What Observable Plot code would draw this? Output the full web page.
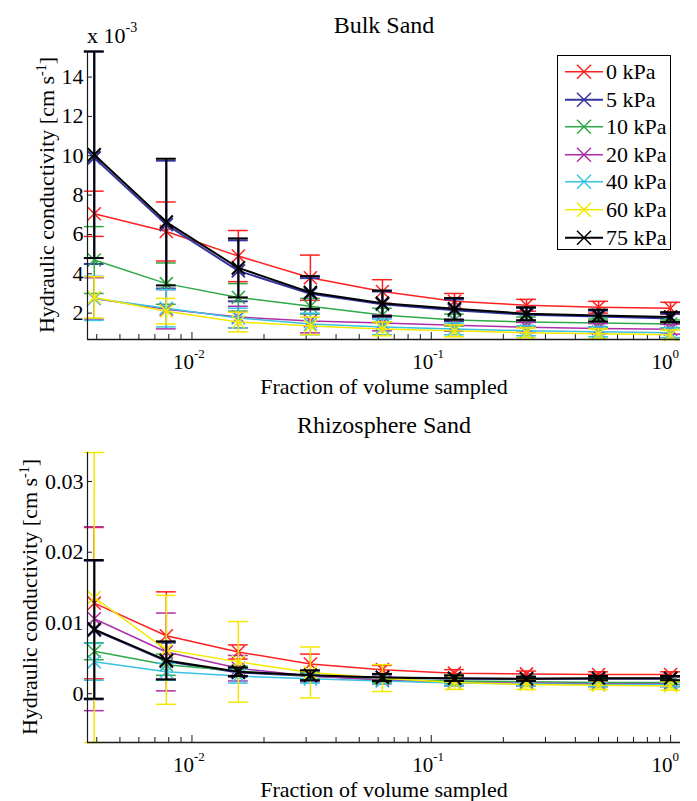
<!DOCTYPE html>
<html><head><meta charset="utf-8">
<script src="https://cdn.jsdelivr.net/npm/d3@7"></script>
<script src="https://cdn.jsdelivr.net/npm/@observablehq/plot@0.6"></script>
<style>
body{margin:0;background:#fff;}
#wrap{position:relative;width:697px;height:801px;font-family:"Liberation Serif","Times New Roman",Times,"DejaVu Serif",serif;}
#wrap svg{display:block;}
#wrap svg text{font-family:"Liberation Serif","Times New Roman",Times,"DejaVu Serif",serif;}
#legend{position:absolute;left:557px;top:55px;width:114px;height:195px;border:1px solid #000;background:#fff;padding-top:2px;box-sizing:border-box;}
#legend .row{height:27.6px;display:flex;align-items:center;font-size:22px;line-height:27.6px;}
#legend .row span{margin-left:2px;}
</style></head><body><div id="wrap"></div>
<script>
// ---------- data ----------
const fractions = [0.00390625, 0.0078125, 0.015625, 0.03125, 0.0625, 0.125, 0.25, 0.5, 1];
const pressures = ["0 kPa", "5 kPa", "10 kPa", "20 kPa", "40 kPa", "60 kPa", "75 kPa"];
const colors = ["#ff2020", "#34349e", "#2eaa48", "#ae2eaa", "#38c2e4", "#f4e800", "#000000"];

// Bulk sand, values in units of 10^-3 cm s^-1
const bulk_0 = [7.05, 6.15, 4.9, 3.8, 3.1, 2.6, 2.4, 2.3, 2.25];
const bulk_0_err = [1.15, 1.5, 1.3, 1.15, 0.6, 0.4, 0.3, 0.3, 0.3];
const bulk_5 = [9.9, 6.5, 4.15, 2.98, 2.45, 2.15, 1.92, 1.83, 1.73];
const bulk_5_err = [5.4, 3.25, 1.55, 0.8, 0.65, 0.55, 0.35, 0.3, 0.25];
const bulk_10 = [4.7, 3.5, 2.8, 2.35, 1.9, 1.65, 1.55, 1.5, 1.45];
const bulk_10_err = [1.7, 1.05, 0.7, 0.4, 0.35, 0.3, 0.25, 0.2, 0.2];
const bulk_20 = [2.75, 2.2, 1.8, 1.6, 1.5, 1.38, 1.28, 1.22, 1.18];
const bulk_20_err = [1.05, 1.0, 0.55, 0.6, 0.4, 0.3, 0.25, 0.25, 0.25];
const bulk_40 = [2.75, 2.25, 1.75, 1.45, 1.3, 1.2, 1.1, 1.05, 1.0];
const bulk_40_err = [1.12, 0.95, 0.5, 0.55, 0.4, 0.3, 0.25, 0.25, 0.25];
const bulk_60 = [2.8, 2.1, 1.55, 1.35, 1.2, 1.1, 1.0, 0.95, 0.9];
const bulk_60_err = [1.05, 0.65, 0.5, 0.45, 0.35, 0.3, 0.25, 0.25, 0.24];
const bulk_75 = [10.05, 6.63, 4.3, 3.05, 2.5, 2.22, 1.97, 1.88, 1.8];
const bulk_75_err = [5.25, 3.22, 1.5, 0.83, 0.65, 0.55, 0.33, 0.3, 0.25];

// Rhizosphere sand, cm s^-1
const rhizo_0 = [0.0128, 0.0082, 0.0059, 0.0042, 0.0034, 0.0029, 0.0028, 0.0027, 0.0027];
const rhizo_0_err = [0.0107, 0.0062, 0.0010, 0.0014, 0.0006, 0.0005, 0.0004, 0.0004, 0.0004];
const rhizo_5 = [0.0090, 0.0046, 0.0030, 0.0025, 0.0023, 0.0021, 0.0021, 0.0021, 0.0021];
const rhizo_5_err = [0.0098, 0.0026, 0.0006, 0.0005, 0.0004, 0.0004, 0.0003, 0.0003, 0.0003];
const rhizo_10 = [0.0060, 0.0041, 0.0032, 0.0025, 0.0020, 0.0018, 0.0017, 0.0016, 0.0016];
const rhizo_10_err = [0.0012, 0.0015, 0.0007, 0.0005, 0.0004, 0.0004, 0.0003, 0.0003, 0.0003];
const rhizo_20 = [0.0106, 0.0059, 0.0036, 0.0025, 0.0019, 0.0016, 0.0015, 0.0014, 0.0014];
const rhizo_20_err = [0.0130, 0.0055, 0.0018, 0.0008, 0.0005, 0.0005, 0.0004, 0.0004, 0.0004];
const rhizo_40 = [0.0045, 0.0031, 0.0025, 0.0021, 0.0018, 0.0015, 0.0014, 0.0013, 0.0013];
const rhizo_40_err = [0.0026, 0.0012, 0.0010, 0.0006, 0.0004, 0.0004, 0.0003, 0.0003, 0.0003];
const rhizo_60 = [0.0136, 0.0062, 0.0045, 0.0030, 0.0022, 0.0016, 0.0013, 0.0012, 0.0011];
const rhizo_60_err = [0.0205, 0.0077, 0.0057, 0.0036, 0.0019, 0.0010, 0.0007, 0.0006, 0.0006];
const rhizo_75 = [0.0091, 0.0047, 0.0031, 0.0026, 0.0023, 0.0022, 0.0021, 0.0022, 0.0022];
const rhizo_75_err = [0.0098, 0.0027, 0.0006, 0.0007, 0.0005, 0.0004, 0.0003, 0.0003, 0.0003];

// axis ticks
const xMajorTicks = [0.01, 0.1, 1];
const xMajorExponents = ["-2", "-1", "0"];
const xMinorTicks = [0.004, 0.005, 0.006, 0.007, 0.008, 0.009, 0.02, 0.03, 0.04, 0.05, 0.06, 0.07, 0.08, 0.09, 0.2, 0.3, 0.4, 0.5, 0.6, 0.7, 0.8, 0.9];
const bulkYTicks = [2, 4, 6, 8, 10, 12, 14];
const rhizoYTicks = [0, 0.01, 0.02, 0.03];
const xDomain = [0.00366, 1.1];

const xLabel = "Fraction of volume sampled";
const yLabel = "Hydraulic conductivity [cm s";

// ---------- drawing ----------
const W = 697, ML = 87, MR = 17;
const axisColor = "#1a1a1a";
const font = "'Liberation Serif', 'Times New Roman', Times, 'DejaVu Serif', serif";

function panel({title, means, errs, yTicks, height, marginTop, marginBottom, multiplier, yLabelX}) {
  const series = means.map((m, i) => fractions.map((f, j) => ({
    x: f, y: m[j], lo: m[j] - errs[i][j], hi: m[j] + errs[i][j]
  })));
  const all = series.flat();
  const yDomain = [d3.min(all, d => d.lo), d3.max(all, d => d.hi)];
  const plotH = height - marginTop - marginBottom;
  const plotW = W - ML - MR;
  const cap = 1.1;
  const marks = [
    Plot.axisY({ticks: yTicks, tickSize: 0, tickPadding: 4, label: null, tickFormat: d => String(d), fill: "#000"}),
    Plot.tickY(yTicks, {y: d => d, insetRight: plotW - 5, stroke: axisColor}),
    Plot.tickX(xMinorTicks, {x: d => d, insetTop: plotH - 5, stroke: axisColor}),
    Plot.tickX(xMajorTicks, {x: d => d, insetTop: plotH - 7, stroke: axisColor}),
    Plot.text(xMajorTicks, {x: d => d, text: () => "10", frameAnchor: "bottom", dy: 29, dx: 2, textAnchor: "end", lineAnchor: "bottom", fontSize: 21, fill: "#000"}),
    Plot.text(xMajorTicks, {x: d => d, text: (d, i) => xMajorExponents[i], frameAnchor: "bottom", dy: 18, dx: 2, textAnchor: "start", lineAnchor: "bottom", fontSize: 13, fill: "#000"}),
    Plot.text([xLabel], {text: d => d, frameAnchor: "bottom", dy: 54, lineAnchor: "bottom", fontSize: 22, fill: "#000"}),
    Plot.text([title], {text: d => d, frameAnchor: "top", dy: 32 - marginTop, lineAnchor: "bottom", fontSize: 24, fill: "#000"})
  ];
  series.forEach((s, i) => {
    const c = colors[i], w = i === 6 || i === 1 ? 2 : 1.5;
    marks.push(Plot.ruleX(s, {x: "x", y1: "lo", y2: "hi", stroke: c, strokeWidth: w}));
    marks.push(Plot.ruleY(s, {y: "hi", x1: d => d.x / cap, x2: d => d.x * cap, stroke: c, strokeWidth: w}));
    marks.push(Plot.ruleY(s, {y: "lo", x1: d => d.x / cap, x2: d => d.x * cap, stroke: c, strokeWidth: w}));
    marks.push(Plot.line(s, {x: "x", y: "y", stroke: c, strokeWidth: w}));
    marks.push(Plot.dot(s, {x: "x", y: "y", symbol: "times", r: 6, stroke: c, strokeWidth: w}));
  });
  marks.push(Plot.ruleX([xDomain[0]], {stroke: axisColor, strokeWidth: 1.2}));
  marks.push(Plot.ruleY([yDomain[0]], {stroke: axisColor, strokeWidth: 1.5}));

  const svg = Plot.plot({
    width: W, height, marginLeft: ML, marginRight: MR, marginTop, marginBottom,
    style: {fontFamily: font, fontSize: "22px", background: "#fff", overflow: "visible", color: "#000"},
    x: {type: "log", domain: xDomain, axis: null},
    y: {domain: yDomain},
    marks
  });
  const s = d3.select(svg);
  // rotated y label with superscript
  const cy = marginTop + plotH / 2;
  const t = s.append("text")
    .attr("transform", `translate(${yLabelX},${cy}) rotate(-90)`)
    .attr("text-anchor", "middle")
    .style("font-family", font).attr("font-size", 22).attr("fill", "#000");
  t.append("tspan").text(yLabel);
  t.append("tspan").attr("dy", -8).attr("font-size", 14).text("-1");
  t.append("tspan").attr("dy", 8).text("]");
  if (multiplier) {
    const m = s.append("text").attr("x", ML).attr("y", marginTop - 8)
      .attr("text-anchor", "start")
      .style("font-family", font).attr("font-size", 22).attr("fill", "#000");
    m.append("tspan").text("x 10");
    m.append("tspan").attr("dy", -11).attr("font-size", 14).text(multiplier);
  }
  return svg;
}

const wrap = document.getElementById("wrap");
wrap.appendChild(panel({
  title: "Bulk Sand",
  means: [bulk_0, bulk_5, bulk_10, bulk_20, bulk_40, bulk_60, bulk_75],
  errs: [bulk_0_err, bulk_5_err, bulk_10_err, bulk_20_err, bulk_40_err, bulk_60_err, bulk_75_err],
  yTicks: bulkYTicks, height: 400, marginTop: 51, marginBottom: 61, multiplier: "-3", yLabelX: 54
}));
wrap.appendChild(panel({
  title: "Rhizosphere Sand",
  means: [rhizo_0, rhizo_5, rhizo_10, rhizo_20, rhizo_40, rhizo_60, rhizo_75],
  errs: [rhizo_0_err, rhizo_5_err, rhizo_10_err, rhizo_20_err, rhizo_40_err, rhizo_60_err, rhizo_75_err],
  yTicks: rhizoYTicks, height: 401, marginTop: 52, marginBottom: 59, multiplier: null, yLabelX: 37
}));

// legend (HTML overlay)
const legend = document.createElement("div");
legend.id = "legend";
pressures.forEach((p, i) => {
  const row = document.createElement("div");
  row.className = "row";
  const sv = d3.create("svg").attr("width", 46).attr("height", 27.6);
  sv.append("line").attr("x1", 7).attr("x2", 45).attr("y1", 13.8).attr("y2", 13.8)
    .attr("stroke", colors[i]).attr("stroke-width", i === 6 || i === 1 ? 2 : 1.5);
  sv.append("path").attr("d", "M19,6.8L33,20.8M19,20.8L33,6.8")
    .attr("stroke", colors[i]).attr("stroke-width", 1.5).attr("fill", "none");
  row.appendChild(sv.node());
  const span = document.createElement("span");
  span.textContent = p;
  row.appendChild(span);
  legend.appendChild(row);
});
wrap.appendChild(legend);
</script>
</body></html>
